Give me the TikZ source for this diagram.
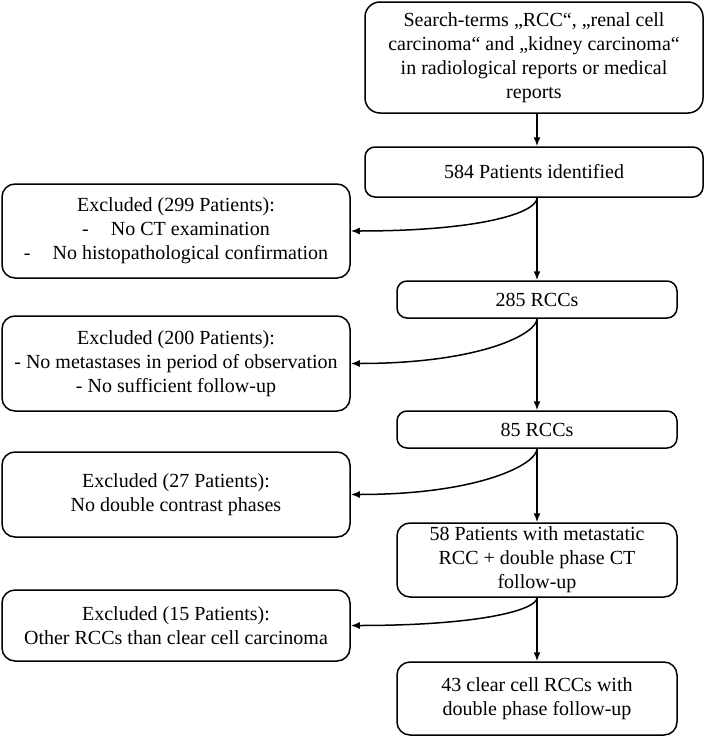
\documentclass[tikz,border=0pt]{standalone}
\usepackage{fontspec}
\setmainfont{Liberation Serif}
\usetikzlibrary{arrows.meta}
\begin{document}
\begin{tikzpicture}[x=1pt,y=-1pt,line width=1.5pt,
box/.style={draw,rounded corners=10pt,align=center,inner sep=0pt,font=\fontsize{20}{24}\selectfont},
flow/.style={-{Latex[length=9pt,width=7pt]}}]
\useasboundingbox(0,0)rectangle(709,737);
\node[box,rounded corners=15pt,minimum width=338pt,minimum height=111pt](src)at(534,57.5){Search-terms „RCC“, „renal cell\\carcinoma“ and „kidney carcinoma“\\in radiological reports or medical\\reports};
\node[box,minimum width=338pt,minimum height=50pt](idf)at(534,172){584 Patients identified};
\node[box,rounded corners=13pt,minimum width=348pt,minimum height=94pt](ex1)at(176,231){Excluded (299 Patients):\\-\hspace{22pt}No CT examination\\-\hspace{22pt}No histopathological confirmation};
\node[box,minimum width=280pt,minimum height=37pt](r285)at(537,299.5){285 RCCs};
\node[box,rounded corners=13pt,minimum width=348pt,minimum height=95pt](ex2)at(176,363.5){Excluded (200 Patients):\\- No metastases in period of observation\\- No sufficient follow-up};
\node[box,minimum width=280pt,minimum height=37pt](r85)at(537,429.5){85 RCCs};
\node[box,rounded corners=13pt,minimum width=348pt,minimum height=85pt](ex3)at(176,494.5){Excluded (27 Patients):\\No double contrast phases};
\node[box,rounded corners=13pt,minimum width=280pt,minimum height=74pt](p58)at(537,560){58 Patients with metastatic\\RCC + double phase CT\\follow-up};
\node[box,rounded corners=13pt,minimum width=348pt,minimum height=71pt](ex4)at(176,625.5){Excluded (15 Patients):\\Other RCCs than clear cell carcinoma};
\node[box,rounded corners=13pt,minimum width=280pt,minimum height=73pt](c43)at(537,698.5){43 clear cell RCCs with\\double phase follow-up};
\draw[flow](src.south -| r285)--(idf.north -| r285);
\draw[flow](idf.south -| r285)--(r285);
\draw[flow](r285)--(r85);
\draw[flow](r85)--(p58);
\draw[flow](p58)--(c43);
\draw[flow](idf.south -| r285)..controls +(0,15) and +(130,0)..(ex1.east);
\draw[flow](r285.south)..controls +(0,15) and +(130,0)..(ex2.east);
\draw[flow](r85.south)..controls +(0,15) and +(130,0)..(ex3.east);
\draw[flow](p58.south)..controls +(0,12) and +(130,0)..(ex4.east);
\end{tikzpicture}
\end{document}
